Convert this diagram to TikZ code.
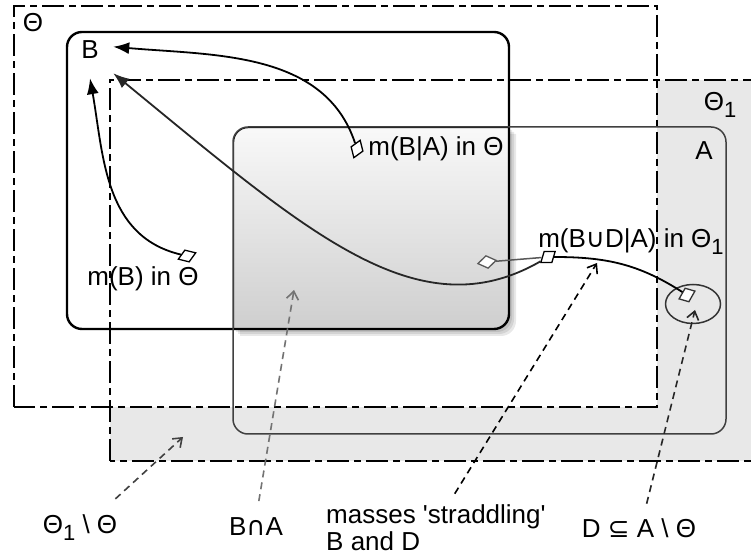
\documentclass[tikz,border=0pt]{standalone}
\usepackage{fontspec}
\newfontfamily\lblfont{Liberation Sans}
\newfontfamily\symfont{DejaVu Sans}
\usetikzlibrary{arrows.meta,shapes.geometric}
\newcommand{\lblsize}{\fontsize{26}{27}\selectfont}
\newcommand{\lowsub}[1]{\raisebox{-7pt}{\fontsize{22}{22}\selectfont #1}}
\newcommand{\cornr}{15pt}
\newcommand{\Bset}{(67,230) rectangle (509,527)}
\newcommand{\Aset}{(233,125) rectangle (726,432)}

\begin{document}
\begin{tikzpicture}[x=1pt,y=1pt,
    lbl/.style={font=\lblfont\lblsize, inner sep=0pt},
    setline/.style={line width=2.4pt, rounded corners=\cornr},
    frameline/.style={line width=2pt, dash pattern=on 22pt off 5pt on 7pt off 5pt},
    massmark/.style={diamond, draw, fill=white, inner sep=0pt, minimum width=19pt, minimum height=13pt, line width=1.3pt},
    massarrow/.style={line width=1.8pt, -{Latex[length=16pt,width=12pt]}},
    pointer/.style={line width=1.6pt, dash pattern=on 7pt off 5pt, -{Straight Barb[length=8pt,width=12pt]}}]
    \useasboundingbox (0,0) rectangle (751,559);
    % Theta_1 without Theta
    \fill[gray!18] (110,98) rectangle (765,479);
    \fill[white] (14,152) rectangle (657,553);
    % shadow and shading of B cap A
    \foreach \s in {3,5,7} {
        \begin{scope}[shift={(\s,-\s)}]
            \clip[rounded corners=\cornr] \Bset;
            \clip[rounded corners=\cornr] \Aset;
            \fill[black, opacity=0.09] (220,220) rectangle (520,440);
        \end{scope}
    }
    \begin{scope}
        \clip[rounded corners=\cornr] \Bset;
        \clip[rounded corners=\cornr] \Aset;
        \shade[top color=gray!5, bottom color=gray!38] (233,230) rectangle (509,432);
        \draw[setline] \Aset;
    \end{scope}
    % the frames
    \draw[frameline] (14,152) rectangle (657,553);
    \draw[frameline] (110,98) rectangle (765,479);
    \draw[setline] \Bset;
    \draw[setline, line width=1.5pt, black!75] \Aset;
    \node[ellipse, draw=black!80, line width=1.5pt, minimum width=55pt, minimum height=39pt] (dset) at (693,255) {};

    \node[lbl] (theta) at (33,536) {Θ};
    \node[lbl, minimum width=46pt, minimum height=56pt] (bset) at (90,509) {B};
    \node[lbl] (mB) at (143,280) {m(B) in Θ};
    \node[lbl] (mBA) at (436,410) {m(B|A) in Θ};
    \node[lbl] (theta1) at (720,454) {Θ\lowsub{1}};
    \node[lbl] (aset) at (704,408) {A};
    \node[lbl] (mBD) at (631,317) {m(B{\symfont ∪}D|A) in Θ\lowsub{1}};
    \node[lbl] (thdiff) at (80,31) {Θ\lowsub{1} \textbackslash\ Θ};
    \node[lbl] (bcap) at (256,32) {B{\symfont ∩}A};
    \node[lbl, anchor=west, align=left] (masses) at (326,31) {masses 'straddling'\\B and D};
    \node[lbl] (dlbl) at (639,31) {D {\symfont ⊆} A \textbackslash\ Θ};

    % masses
    \node[massmark, rotate=20] (dB) at (187,303) {};
    \node[massmark, rotate=70] (dBA) at (357,410) {};
    \node[massmark, draw=black!65, rotate=10] (dG) at (487,297) {};
    \node[draw, fill=white, minimum size=11pt, inner sep=0pt, xslant=0.3, line width=1.3pt] (sq) at (548,302) {};
    \node[draw=black!80, fill=white, minimum size=11pt, inner sep=0pt, xslant=0.3, rotate=-15, line width=1.3pt] (dD) at (687,264) {};

    \draw[massarrow] (dB) to[out=165, in=-80] (bset.south);
    \draw[massarrow] (dBA) to[out=105, in=-5] (bset.8);
    \draw[massarrow, black!85] (sq) .. controls (418,227) and (308,326) .. (bset.-45);
    \draw[line width=1.5pt, black!65] (dG) -- (sq);
    \draw[line width=1.8pt] (sq) to[out=0, in=150] (dD);

    % pointers from the captions
    \coordinate (tipdiff) at (183,122);
    \coordinate (tipcap) at (294,269);
    \coordinate (tipstr) at (597,296);
    \coordinate (tipD) at (695,249);
    \draw[pointer, black!75] ([xshift=-2pt, yshift=16pt]thdiff.north east) -- (tipdiff);
    \draw[pointer, black!55, shorten <=17pt] (bcap.north) -- (tipcap);
    \draw[pointer, shorten <=13pt] ([xshift=12pt]masses.north) -- (tipstr);
    \draw[pointer, black!85, shorten <=15pt] ([xshift=4pt]dlbl.north) -- (tipD);
\end{tikzpicture}
\end{document}
